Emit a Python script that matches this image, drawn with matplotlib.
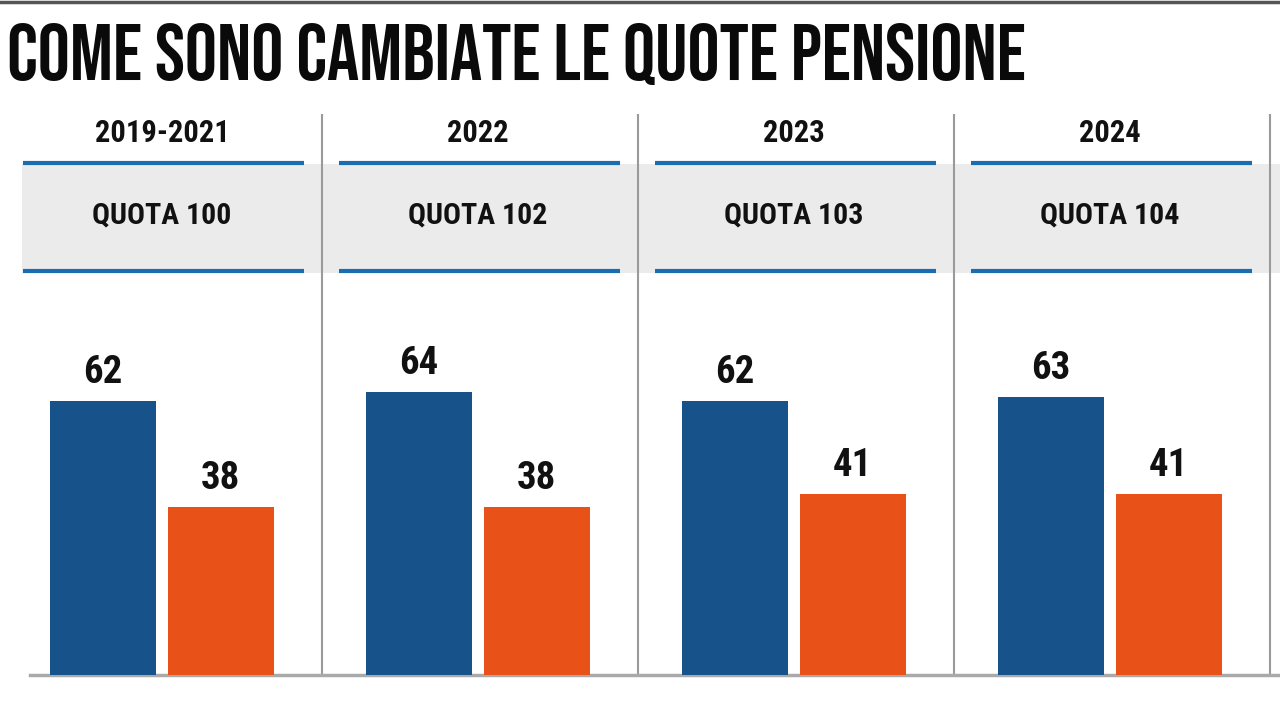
import matplotlib.pyplot as plt
from matplotlib.patches import Rectangle

# data
periods = ["2019-2021", "2022", "2023", "2024"]
quote = ["QUOTA 100", "QUOTA 102", "QUOTA 103", "QUOTA 104"]
eta = [62, 64, 62, 63]
contributi = [38, 38, 41, 41]

blue = '#17538a'
orange = '#e85118'
line_blue = '#1c6db0'
band_grey = '#ebebeb'
sep_grey = '#9a9a9a'

title_font = ['Bebas Neue', 'DejaVu Sans']
font = ['Roboto Condensed', 'DejaVu Sans']

fig = plt.figure(figsize=(12.8, 7.01), dpi=100)
ax = fig.add_axes([0, 0, 1, 1])
ax.set_xlim(-0.5127, 3.538)
ax.set_ylim(-5.88, 152.7)
ax.axis('off')

x = list(range(len(periods)))
w = 0.336
off = 0.186

# header band, continuous behind all panels
ax.add_patch(Rectangle((x[0] - 0.443, 91.0), len(x) + 1, 24.6, color=band_grey, lw=0, zorder=1))
for i in x:
    ax.plot([i - 0.44, i + 0.45], [115.8, 115.8], color=line_blue, lw=3, solid_capstyle='butt', zorder=2)
    ax.plot([i - 0.44, i + 0.45], [91.4, 91.4], color=line_blue, lw=3, solid_capstyle='butt', zorder=2)
    ax.text(i, 122.6, periods[i], ha='center', va='center', fontsize=22, fontweight='bold',
            family=font, color='#111111')
    ax.text(i, 104.0, quote[i], ha='center', va='center', fontsize=21.5, fontweight='bold',
            family=font, color='#111111')
    ax.plot([i + 0.505, i + 0.505], [0, 126.7], color=sep_grey, lw=1.5, zorder=2)

# baseline
ax.plot([-0.419, 3.6], [0, 0], color='#aaaaaa', lw=2.5, zorder=2)

b1 = ax.bar([i - off for i in x], eta, width=w, color=blue, zorder=3)
b2 = ax.bar([i + off for i in x], contributi, width=w, color=orange, zorder=3)
for bars, vals in [(b1, eta), (b2, contributi)]:
    for b, v in zip(bars, vals):
        ax.annotate(str(v), (b.get_x() + b.get_width() / 2, v), xytext=(0, 7),
                    textcoords='offset points', ha='center', va='bottom',
                    fontsize=28, fontweight='bold', family=font, color='#111111')

# top border
fig.add_artist(plt.Line2D([0, 1], [1 - 1.5 / 701, 1 - 1.5 / 701], color='#555555', lw=2.5))

fig.text(7 / 1280, 1 - 80 / 701, "COME SONO CAMBIATE LE QUOTE PENSIONE", ha='left', va='baseline',
         fontsize=57.8, family=title_font, color='#0a0a0a')

fig.savefig('out.png', dpi=100)
